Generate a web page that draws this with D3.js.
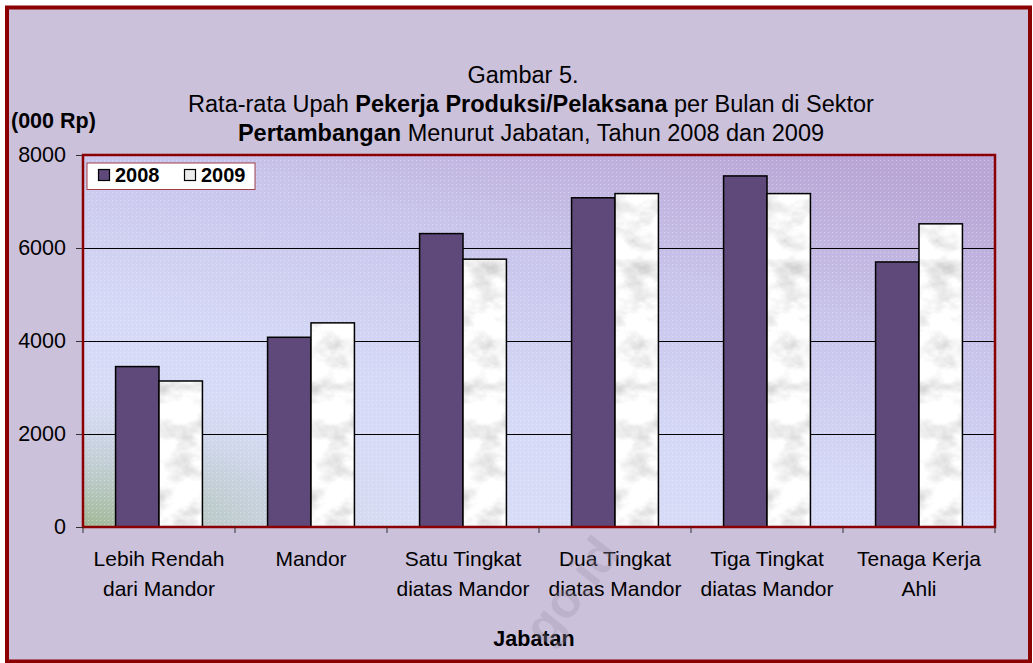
<!DOCTYPE html>
<html>
<head>
<meta charset="utf-8">
<script src="https://cdn.jsdelivr.net/npm/d3@7"></script>
<style>
  body { margin: 0; background: #fff; }
  svg { display: block; font-family: "Liberation Sans", Arial, sans-serif; }
</style>
</head>
<body>
<script>
// data
const categories = [
  ["Lebih Rendah", "dari Mandor"],
  ["Mandor"],
  ["Satu Tingkat", "diatas Mandor"],
  ["Dua Tingkat", "diatas Mandor"],
  ["Tiga Tingkat", "diatas Mandor"],
  ["Tenaga Kerja", "Ahli"]
]
const series = ["2008", "2009"]
const values2008 = [3450, 4080, 6310, 7080, 7550, 5700]
const values2009 = [3140, 4390, 5760, 7170, 7170, 6520]
const yTicks = [0, 2000, 4000, 6000, 8000]

const W = 1033, H = 663
const plot = { left: 83, right: 995, top: 155, bottom: 527 }

let svg = d3.select("body").append("svg")
  .attr("width", W).attr("height", H)

let defs = svg.append("defs")

// plot area gradient: purple top-right -> pale lavender -> greenish bottom-left
let grad = defs.append("linearGradient").attr("id", "plotGrad")
  .attr("x1", "80%").attr("y1", "0%").attr("x2", "20%").attr("y2", "100%")
grad.append("stop").attr("offset", "0%").attr("stop-color", "#b9a6d6")
grad.append("stop").attr("offset", "30%").attr("stop-color", "#c8c3ea")
grad.append("stop").attr("offset", "65%").attr("stop-color", "#d5d9f6")
grad.append("stop").attr("offset", "100%").attr("stop-color", "#d9def7")

let green = defs.append("radialGradient").attr("id", "greenGlow")
  .attr("cx", "0%").attr("cy", "100%").attr("r", "40%")
green.append("stop").attr("offset", "0%").attr("stop-color", "#9db68f").attr("stop-opacity", 0.95)
green.append("stop").attr("offset", "55%").attr("stop-color", "#b6c6c4").attr("stop-opacity", 0.45)
green.append("stop").attr("offset", "100%").attr("stop-color", "#d9def7").attr("stop-opacity", 0)

// fine dot pattern over the plot
let dots = defs.append("pattern").attr("id", "dots")
  .attr("width", 4).attr("height", 4).attr("patternUnits", "userSpaceOnUse")
dots.append("rect").attr("width", 1).attr("height", 1).attr("fill", "#ffffff").attr("opacity", 0.35)

// marble texture for 2009 bars
let marble = defs.append("filter").attr("id", "marble")
  .attr("x", "0%").attr("y", "0%").attr("width", "100%").attr("height", "100%")
marble.append("feTurbulence").attr("type", "fractalNoise")
  .attr("baseFrequency", "0.035 0.05").attr("numOctaves", 4).attr("seed", 7).attr("result", "noise")
marble.append("feColorMatrix").attr("in", "noise").attr("type", "matrix")
  .attr("values", "-0.75 0 0 0 1.32  -0.75 0 0 0 1.32  -0.75 0 0 0 1.32  0 0 0 0 1")
  .attr("result", "gray")
marble.append("feComposite").attr("in", "gray").attr("in2", "SourceGraphic").attr("operator", "in")

// outer background + border
svg.append("rect").attr("x", 7).attr("y", 7.5).attr("width", 1023).attr("height", 654)
  .attr("fill", "#ccc1db").attr("stroke", "#8b0000").attr("stroke-width", 4)

// title
let title = svg.append("text").attr("text-anchor", "middle").attr("font-size", 23.5).attr("fill", "#000")
title.append("tspan").attr("x", 523).attr("y", 83).text("Gambar 5.")
let l2 = title.append("tspan").attr("x", 531).attr("y", 112)
l2.append("tspan").text("Rata-rata Upah ")
l2.append("tspan").attr("font-weight", "bold").text("Pekerja Produksi/Pelaksana")
l2.append("tspan").text(" per Bulan di Sektor")
let l3 = title.append("tspan").attr("x", 531).attr("y", 141)
l3.append("tspan").attr("font-weight", "bold").text("Pertambangan")
l3.append("tspan").text(" Menurut Jabatan, Tahun 2008 dan 2009")

svg.append("text").attr("x", 11).attr("y", 128)
  .attr("font-size", 21.5).attr("font-weight", "bold").text("(000 Rp)")

//scales
let x0 = d3.scaleBand().domain(d3.range(categories.length))
  .range([plot.left, plot.right]).padding(0)
let x1 = d3.scaleBand().domain(series)
  .range([0, x0.bandwidth()]).paddingInner(0).paddingOuter(0.75)
let y = d3.scaleLinear().domain([0, 8000]).range([plot.bottom, plot.top])

// plot area background
let pw = plot.right - plot.left, ph = plot.bottom - plot.top
svg.append("rect").attr("x", plot.left).attr("y", plot.top).attr("width", pw).attr("height", ph)
  .attr("fill", "url(#plotGrad)")
svg.append("rect").attr("x", plot.left).attr("y", plot.top).attr("width", pw).attr("height", ph)
  .attr("fill", "url(#greenGlow)")
svg.append("rect").attr("x", plot.left).attr("y", plot.top).attr("width", pw).attr("height", ph)
  .attr("fill", "url(#dots)")

// gridlines
svg.selectAll(".grid").data(yTicks.filter(d => d > 0 && d < 8000)).enter()
  .append("line").attr("class", "grid")
  .attr("x1", plot.left).attr("x2", plot.right)
  .attr("y1", d => Math.round(y(d)) + 0.5).attr("y2", d => Math.round(y(d)) + 0.5)
  .attr("stroke", "#000").attr("stroke-width", 1)

// bars
let groups = svg.selectAll(".cat").data(categories.map((c, i) => i)).enter()
  .append("g").attr("class", "cat")
  .attr("transform", i => `translate(${x0(i)},0)`)

groups.append("rect")
  .attr("x", x1("2008")).attr("width", x1.bandwidth())
  .attr("y", i => y(values2008[i])).attr("height", i => y(0) - y(values2008[i]))
  .attr("fill", "#5f497a").attr("stroke", "#000").attr("stroke-width", 1.5)

groups.append("rect")
  .attr("x", x1("2009")).attr("width", x1.bandwidth())
  .attr("y", i => y(values2009[i])).attr("height", i => y(0) - y(values2009[i]))
  .attr("fill", "#fff").attr("filter", "url(#marble)")
groups.append("rect")
  .attr("x", x1("2009")).attr("width", x1.bandwidth())
  .attr("y", i => y(values2009[i])).attr("height", i => y(0) - y(values2009[i]))
  .attr("fill", "none").attr("stroke", "#000").attr("stroke-width", 1.5)

// plot border
svg.append("rect").attr("x", plot.left).attr("y", plot.top).attr("width", pw).attr("height", ph)
  .attr("fill", "none").attr("stroke", "#8b0000").attr("stroke-width", 2.5)

// y axis
let yAxis = svg.append("g").attr("transform", `translate(${plot.left - 1},0)`)
  .call(d3.axisLeft(y).tickValues(yTicks).tickSize(6).tickPadding(10).tickFormat(d3.format("d")))
yAxis.select(".domain").remove()
yAxis.selectAll("line").attr("stroke", "#333")
yAxis.selectAll("text").attr("font-size", 21.5).attr("fill", "#000")
  .attr("font-family", "'Liberation Sans', Arial, sans-serif")

// x axis ticks at category boundaries
let bounds = d3.range(categories.length + 1).map(i => plot.left + i * x0.bandwidth())
svg.selectAll(".xtick").data(bounds).enter()
  .append("line").attr("class", "xtick")
  .attr("x1", d => d).attr("x2", d => d)
  .attr("y1", plot.bottom).attr("y2", plot.bottom + 6)
  .attr("stroke", "#333")

// category labels
let labels = svg.selectAll(".xlab").data(categories).enter()
  .append("text").attr("class", "xlab")
  .attr("text-anchor", "middle").attr("font-size", 21).attr("fill", "#000")
labels.selectAll("tspan").data((d, i) => d.map(t => ({ t, i }))).enter()
  .append("tspan")
  .attr("x", d => x0(d.i) + x0.bandwidth() / 2)
  .attr("y", (d, j) => 566 + j * 30)
  .text(d => d.t)

svg.append("text").attr("x", 534).attr("y", 646).attr("text-anchor", "middle")
  .attr("font-size", 21.5).attr("font-weight", "bold").text("Jabatan")

// legend
let legend = svg.append("g").attr("transform", "translate(87,163)")
legend.append("rect").attr("width", 168).attr("height", 26.5)
  .attr("fill", "#fff").attr("stroke", "#a0404a").attr("stroke-width", 1)
let items = legend.selectAll(".li").data(series).enter()
  .append("g").attr("class", "li")
  .attr("transform", (d, i) => `translate(${11.5 + i * 86},0)`)
items.append("rect").attr("x", 0).attr("y", 6.5).attr("width", 11).attr("height", 11)
  .attr("fill", (d, i) => i === 0 ? "#5f497a" : "#ececec").attr("stroke", "#000").attr("stroke-width", 1.2)
items.append("text").attr("x", 16.5).attr("y", 19).attr("font-size", 20)
  .attr("font-weight", "bold").text(d => d)

// faint watermark
svg.append("text").attr("transform", "translate(548,648) rotate(-52)")
  .attr("font-size", 50).attr("font-weight", "bold").attr("fill", "#9a90a8").attr("opacity", 0.3)
  .text("go.id")
</script>
</body>
</html>
